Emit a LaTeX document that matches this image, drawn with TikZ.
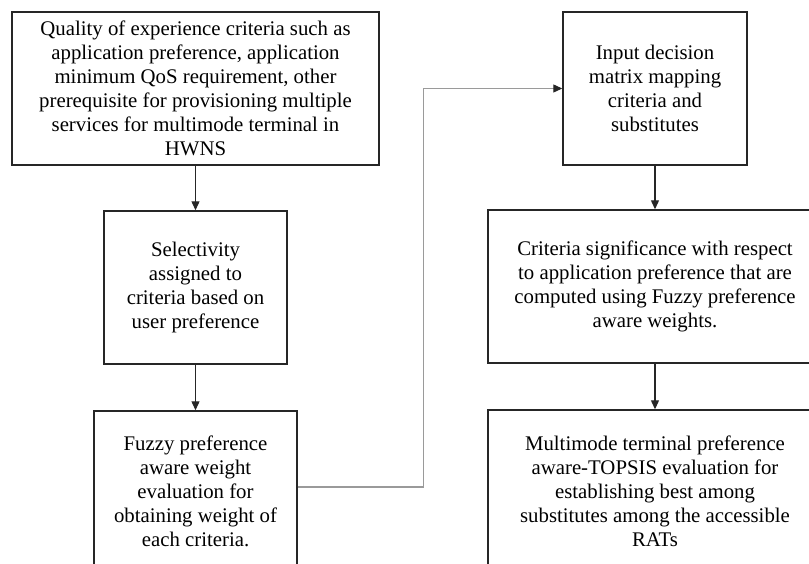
\documentclass[tikz,border=0pt]{standalone}
\usepackage{fontspec}
\setmainfont{Liberation Serif}
\usetikzlibrary{arrows.meta}
\definecolor{ink}{HTML}{262626}
\definecolor{wire}{HTML}{9A9A9A}
\tikzset{
  stage/.style={draw=ink,line width=1.4pt,inner sep=0pt,minimum height=153pt,align=center,
    text=black,font=\fontsize{20.8}{24}\selectfont},
  flow/.style={-{Triangle[length=9pt,width=8pt]},draw=ink,line width=1.2pt},
  link/.style={-{Triangle[length=9pt,width=8pt,color=ink]},draw=wire,line width=1.1pt}
}
\begin{document}
\begin{tikzpicture}[x=1pt,y=1pt]
  \useasboundingbox (0,0) rectangle (809,563);
  \clip (0,0) rectangle (809,563);

  % Left column.
  \node[stage,minimum width=367pt] (qoe) at (195.5,474.5)
    {Quality of experience criteria such as\\application preference, application\\minimum QoS requirement, other\\prerequisite for provisioning multiple\\services for multimode terminal in\\HWNS};
  \node[stage,minimum width=183pt] (select) at (195.5,275.5)
    {Selectivity\\assigned to\\criteria based on\\user preference};
  \node[stage,minimum width=203pt,minimum height=160pt] (fuzzy) at (195.5,72)
    {Fuzzy preference\\aware weight\\evaluation for\\obtaining weight of\\each criteria.};

  % Right column.
  \node[stage,minimum width=184pt] (matrix) at (655,474.5)
    {Input decision\\matrix mapping\\criteria and\\substitutes};
  \node[stage,minimum width=334pt] (signif) at (655,276.5)
    {Criteria significance with respect\\to application preference that are\\computed using Fuzzy preference\\aware weights.};
  \node[stage,minimum width=334pt,minimum height=162pt] (topsis) at (655,72)
    {Multimode terminal preference\\aware-TOPSIS evaluation for\\establishing best among\\substitutes among the accessible\\RATs};

  \draw[flow] (qoe) -- (select);
  \draw[flow] (select) -- (fuzzy);
  \draw[flow] (matrix) -- (signif);
  \draw[flow] (signif) -- (topsis);

  % Cross-over to the decision matrix.
  \draw[link] (fuzzy.east|-0,76) -- ++(126,0) |- (matrix.west);
\end{tikzpicture}
\end{document}
